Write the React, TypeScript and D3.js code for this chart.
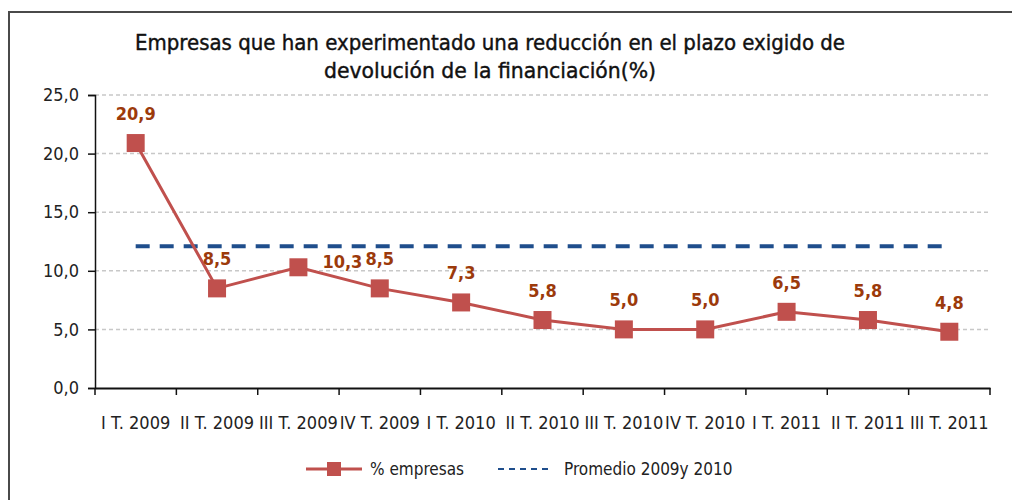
import React, { useRef, useEffect } from 'react';
import * as d3 from 'd3';

const categories = [
  'I T. 2009', 'II T. 2009', 'III T. 2009', 'IV T. 2009', 'I T. 2010', 'II T. 2010',
  'III T. 2010', 'IV T. 2010', 'I T. 2011', 'II T. 2011', 'III T. 2011',
];
const empresas = [20.9, 8.5, 10.3, 8.5, 7.3, 5.8, 5.0, 5.0, 6.5, 5.8, 4.8];
const promedio = [12.1, 12.1, 12.1, 12.1, 12.1, 12.1, 12.1, 12.1, 12.1, 12.1, 12.1];
const yTicks = [0, 5, 10, 15, 20, 25];
const titleLines = [
  'Empresas que han experimentado una reducción en el plazo exigido de',
  'devolución de la financiación(%)',
];

const fmt = (v: number) => v.toFixed(1).replace('.', ',');

const App = () => {
  const svgRef = useRef<SVGSVGElement>(null);
  const width = 1012;
  const height = 500;

  useEffect(() => {
    const svg = d3.select(svgRef.current);
    svg.selectAll('*').remove();
    const font = "'DejaVu Sans Condensed', 'DejaVu Sans', sans-serif";
    const margin = { top: 95, right: 22, bottom: 112, left: 95 };
    const innerWidth = width - margin.left - margin.right;
    const innerHeight = height - margin.top - margin.bottom;

    // outer frame (only top and left edges visible)
    svg.append('rect')
      .attr('x', 9).attr('y', 12)
      .attr('width', width + 20).attr('height', height + 20)
      .attr('fill', 'white')
      .attr('stroke', '#4a4a4a').attr('stroke-width', 2);

    svg.selectAll('text.title')
      .data(titleLines)
      .join('text')
      .attr('class', 'title')
      .attr('x', 490)
      .attr('y', (d, i) => 50 + i * 28)
      .attr('text-anchor', 'middle')
      .attr('font-family', font)
      .attr('font-size', 22)
      .attr('fill', '#111')
      .attr('stroke', '#111').attr('stroke-width', 0.4)
      .attr('textLength', (d, i) => (i === 0 ? 710 : 332))
      .attr('lengthAdjust', 'spacingAndGlyphs')
      .text(d => d);

    const x = d3.scaleBand().domain(categories).range([0, innerWidth]);
    const y = d3.scaleLinear().domain([0, 25]).range([innerHeight, 0]);
    const cx = (i: number) => (x(categories[i]) as number) + x.bandwidth() / 2;

    const g = svg.append('g').attr('transform', `translate(${margin.left},${margin.top})`);

    g.append('g')
      .selectAll('line')
      .data(yTicks.filter(t => t > 0))
      .join('line')
      .attr('x1', 0).attr('x2', innerWidth)
      .attr('y1', d => y(d)).attr('y2', d => y(d))
      .attr('stroke', '#c8c8c8')
      .attr('stroke-width', 1.5)
      .attr('stroke-dasharray', '4,3');

    const yAxis = g.append('g')
      .call(d3.axisLeft(y).tickValues(yTicks).tickSize(7).tickFormat(d => fmt(+d)));
    yAxis.select('.domain').attr('stroke', '#111').attr('stroke-width', 1.5);
    yAxis.selectAll('.tick line').attr('stroke', '#111').attr('stroke-width', 1.5);
    yAxis.selectAll('.tick text')
      .attr('font-family', font).attr('font-size', 18).attr('fill', '#222').attr('x', -16);

    const xAxis = g.append('g')
      .attr('transform', `translate(0,${innerHeight})`)
      .call(d3.axisBottom(x).tickSize(0).tickSizeOuter(0));
    xAxis.select('.domain').attr('stroke', '#111').attr('stroke-width', 2);
    xAxis.selectAll('.tick text')
      .attr('font-family', font).attr('font-size', 18).attr('fill', '#222').attr('dy', '2.1em');
    g.append('g')
      .selectAll('line')
      .data(d3.range(categories.length + 1))
      .join('line')
      .attr('x1', i => x.step() * i).attr('x2', i => x.step() * i)
      .attr('y1', innerHeight).attr('y2', innerHeight + 7)
      .attr('stroke', '#111').attr('stroke-width', 1.5);

    // average line
    g.append('path')
      .datum(promedio)
      .attr('fill', 'none')
      .attr('stroke', '#1f4e8c')
      .attr('stroke-width', 4)
      .attr('stroke-dasharray', '14,10')
      .attr('d', d3.line<number>().x((d, i) => cx(i)).y(d => y(d)));

    const red = '#c0504d';
    g.append('path')
      .datum(empresas)
      .attr('fill', 'none')
      .attr('stroke', red)
      .attr('stroke-width', 3)
      .attr('d', d3.line<number>().x((d, i) => cx(i)).y(d => y(d)));

    g.selectAll('rect.marker')
      .data(empresas)
      .join('rect')
      .attr('class', 'marker')
      .attr('x', (d, i) => cx(i) - 9)
      .attr('y', d => y(d) - 9)
      .attr('width', 18).attr('height', 18)
      .attr('fill', red);

    g.selectAll('text.label')
      .data(empresas)
      .join('text')
      .attr('class', 'label')
      .attr('x', (d, i) => (i === 2 ? cx(i) + 24 : cx(i)))
      .attr('y', (d, i) => (i === 2 ? y(d) + 1 : y(d) - 23))
      .attr('text-anchor', (d, i) => (i === 2 ? 'start' : 'middle'))
      .attr('font-family', font)
      .attr('font-size', 18)
      .attr('font-weight', 'bold')
      .attr('fill', '#9c3a0b')
      .text(d => fmt(d));

    // legend
    const lg = svg.append('g').attr('transform', 'translate(0,469)');
    lg.append('line').attr('x1', 306).attr('x2', 362).attr('stroke', red).attr('stroke-width', 3);
    lg.append('rect').attr('x', 327).attr('y', -7).attr('width', 14).attr('height', 14).attr('fill', red);
    lg.append('text').attr('x', 370).attr('y', 6)
      .attr('font-family', font).attr('font-size', 17).attr('fill', '#222').text('% empresas');
    lg.append('line').attr('x1', 498).attr('x2', 553)
      .attr('stroke', '#1f4e8c').attr('stroke-width', 2).attr('stroke-dasharray', '6,5');
    lg.append('text').attr('x', 564).attr('y', 6)
      .attr('font-family', font).attr('font-size', 17).attr('fill', '#222').text('Promedio 2009y 2010');
  }, []);

  return <svg ref={svgRef} width={width} height={height} style={{ position: 'absolute', left: 0, top: 0 }} />;
};

export default App;
